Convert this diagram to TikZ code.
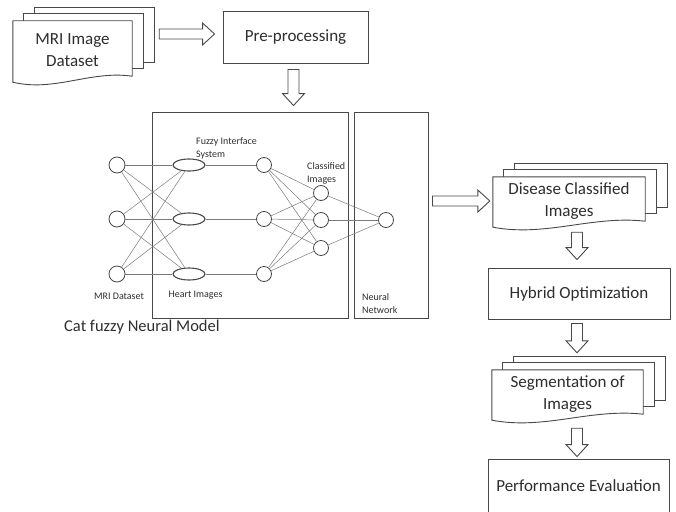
\documentclass[tikz,border=0pt]{standalone}
\usepackage{fontspec}
\setmainfont{Carlito}
\usetikzlibrary{positioning,calc,backgrounds,shapes.geometric}

\definecolor{linegray}{HTML}{484848}
\definecolor{edgegray}{HTML}{7A7A7A}
\definecolor{textgray}{HTML}{2E2E2E}

\tikzset{
  box/.style={draw=linegray, line width=0.9pt, fill=white, inner sep=0pt,
    font=\fontsize{17}{21}\selectfont, text=textgray, align=center},
  docfront/.style={inner sep=0pt, font=\fontsize{17}{22}\selectfont,
    text=textgray, align=center},
  sheet/.style={draw=linegray, line width=0.9pt, fill=white},
  frame/.style={draw=linegray, line width=0.9pt, inner sep=0pt},
  neuron/.style={circle, draw=linegray, line width=0.8pt, fill=white,
    inner sep=0pt, minimum size=15pt},
  fuzzy/.style={ellipse, draw=linegray, line width=1.1pt, fill=white,
    inner sep=0pt, minimum width=32pt, minimum height=12pt},
  link/.style={draw=edgegray, line width=0.5pt},
  lbl/.style={font=\fontsize{10}{13}\selectfont, text=textgray,
    inner sep=0pt, align=left},
  caption/.style={font=\fontsize{16.5}{20}\selectfont, text=textgray, inner sep=0pt},
  blockarrow/.style={draw=linegray, line width=0.9pt, fill=white}
}

% stack of three sheets behind a front node, front one with a wavy foot
\newcommand{\docstack}[1]{%
  \begin{scope}[on background layer]
    \foreach \dx/\dy/\dz in {22/13/18, 11/7/12}
      \draw[sheet] ($(#1.north west)+(\dx pt,\dy pt)$) rectangle ($(#1.south east)+(\dx pt,\dz pt)$);
    \draw[sheet] (#1.north west) -- (#1.north east) -- ($(#1.south east)+(0pt,4pt)$)
      .. controls ($(#1.south west)!0.65!(#1.south east)+(0pt,10pt)$)
      and ($(#1.south west)!0.35!(#1.south east)+(0pt,-12pt)$)
      .. ($(#1.south west)+(0pt,-2pt)$) -- cycle;
  \end{scope}}

% hollow block arrows
\newcommand{\fatright}[2]{%
  \draw[blockarrow] let \p1=(#1), \p2=(#2) in
    (\x1,\y1+5pt) -- (\x2-12pt,\y1+5pt) -- (\x2-12pt,\y1+11pt) -- (\x2,\y1)
    -- (\x2-12pt,\y1-11pt) -- (\x2-12pt,\y1-5pt) -- (\x1,\y1-5pt) -- cycle;}
\newcommand{\fatdown}[2]{%
  \draw[blockarrow] let \p1=(#1), \p2=(#2) in
    (\x1-5.5pt,\y1) -- (\x1-5.5pt,\y2+12pt) -- (\x1-11pt,\y2+12pt) -- (\x1,\y2)
    -- (\x1+11pt,\y2+12pt) -- (\x1+5.5pt,\y2+12pt) -- (\x1+5.5pt,\y1) -- cycle;}

\begin{document}
\begin{tikzpicture}[x=1pt, y=-1pt]
\useasboundingbox (0,0) rectangle (676,511);

% process boxes
\node[box, minimum width=145pt, minimum height=52pt] (pre) at (295.5,37) {Pre-processing};
\node[box, minimum width=182pt, minimum height=51pt] (hyb) at (579,293.5) {Hybrid Optimization};
\node[box, minimum width=181pt, minimum height=54pt] (perf) at (578.5,486) {Performance Evaluation};

% document stacks
\node[docfront, minimum width=119pt, minimum height=59pt] (mri) at (72.5,50.5) {MRI Image\\Dataset};
\node[docfront, minimum width=152pt, minimum height=48pt] (dis) at (569,201) {Disease Classified\\Images};
\node[docfront, minimum width=151pt, minimum height=48pt] (seg) at (567.5,394) {Segmentation of\\Images};
\docstack{mri}
\docstack{dis}
\docstack{seg}

% frames of the model
\node[frame, minimum width=196pt, minimum height=206pt] (cfnm) at (250,215) {};
\node[frame, minimum width=74pt, minimum height=206pt] (nn) at (391,215) {};

% layers
\foreach \k/\y in {1/165, 2/219, 3/274} {
  \node[neuron, minimum size=16pt] (i\k) at (117,\y) {};
  \node[fuzzy] (e\k) at (189,\y) {};
  \node[neuron] (h\k) at (264,\y) {};
}
\foreach \k/\y in {1/193, 2/220, 3/248}
  \node[neuron] (c\k) at (321,\y) {};
\node[neuron] (o) at (386,220) {};

% links
\foreach \a in {1,2,3} {
  \foreach \b in {1,2,3} {
    \draw[link] (i\a) -- (e\b);
    \draw[link] (h\a) -- (c\b);
  }
  \draw[link] (e\a) -- (h\a);
  \draw[link] (c\a) -- (o);
}

% labels
\node[lbl, anchor=west] (fislbl) at (196,148.5) {Fuzzy Interface\\System};
\node[lbl, anchor=west] (clslbl) at (307,173) {Classified\\Images};
\node[lbl] (mrilbl) at (119,296) {MRI Dataset};
\node[lbl] (heartlbl) at (195.5,295) {Heart Images};
\node[lbl, anchor=west] (nnlbl) at (362,303.5) {Neural\\Network};
\node[caption, anchor=west] (model) at (64,327) {Cat fuzzy Neural Model};

% flow arrows
\fatright{$(mri.east |- pre.west)+(27pt,3pt)$}{$(pre.west)+(-8pt,0pt)$}
\fatdown{$(pre.south)+(-2pt,-6pt)$}{$(pre.south |- cfnm.north)+(-2pt,6pt)$}
\fatright{$(nn.east |- dis.west)+(4pt,0pt)$}{$(dis.west)+(-3pt,0pt)$}
\fatdown{$(hyb.north |- dis.south)+(-2pt,-7pt)$}{$(hyb.north)+(-2pt,8pt)$}
\fatdown{$(hyb.south)+(-2pt,-4pt)$}{$(hyb.south |- seg.north)+(-2pt,17pt)$}
\fatdown{$(hyb.south |- seg.south)+(-2pt,-10pt)$}{$(perf.north)+(-2pt,2pt)$}
\end{tikzpicture}
\end{document}
